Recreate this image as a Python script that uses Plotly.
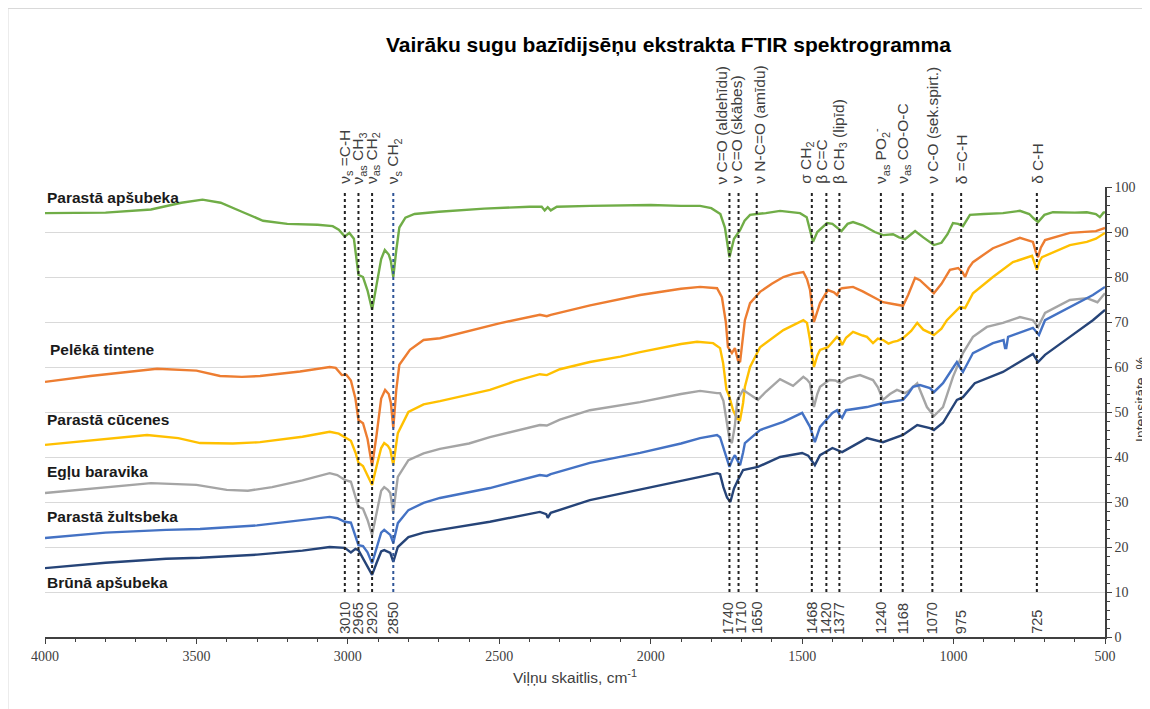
import plotly.graph_objects as go

# ---------------- data ----------------
title_text = "Vairāku sugu bazīdijsēņu ekstrakta FTIR spektrogramma"
x_title = "Viļņu skaitlis, cm<sup>-1</sup>"
y_title = "Intensitāte, %"

series_names = ["Parastā apšubeka", "Pelēkā tintene", "Parastā cūcenes",
                "Egļu baravika", "Parastā žultsbeka", "Brūnā apšubeka"]
series_colors = ["#70AD47", "#ED7D31", "#FFC000", "#A5A5A5", "#4472C4", "#264478"]

wn_green = [4000, 3800, 3650, 3550, 3480, 3420, 3350, 3280, 3200, 3100, 3050, 3030, 3010, 2995, 2980, 2965, 2950, 2935, 2920, 2905, 2890, 2878, 2865, 2858, 2850, 2840, 2830, 2810, 2780, 2700, 2550, 2400, 2360, 2350, 2340, 2330, 2310, 2200, 2000, 1900, 1837, 1800, 1770, 1755, 1740, 1725, 1705, 1690, 1672, 1650, 1620, 1573, 1540, 1507, 1485, 1474, 1464, 1450, 1418, 1400, 1385, 1370, 1350, 1332, 1300, 1260, 1233, 1200, 1180, 1160, 1140, 1127, 1100, 1078, 1065, 1040, 1020, 1002, 985, 969, 946, 900, 837, 781, 750, 735, 721, 700, 672, 600, 560, 530, 517, 505, 500]
it_green = [94.2, 94.3, 95.0, 96.5, 97.2, 96.5, 94.5, 92.5, 91.8, 91.6, 91.3, 90.5, 89.0, 89.8, 88.5, 80.5, 80.0, 77.0, 72.7, 78.0, 84.0, 86.0, 85.0, 83.5, 80.0, 86.0, 91.0, 93.2, 94.0, 94.5, 95.2, 95.6, 95.6, 94.8, 95.5, 94.8, 95.6, 95.8, 96.0, 95.8, 95.8, 95.3, 94.0, 91.0, 84.4, 88.5, 90.4, 92.5, 93.8, 94.0, 94.2, 94.7, 94.5, 94.2, 93.3, 90.4, 87.8, 90.0, 92.0, 91.8, 91.0, 90.2, 91.8, 92.2, 91.5, 90.0, 89.3, 89.5, 88.8, 88.4, 89.5, 90.2, 88.8, 87.8, 87.1, 87.6, 89.5, 92.0, 91.8, 91.3, 93.8, 94.0, 94.2, 94.7, 94.0, 93.0, 92.2, 93.8, 94.4, 94.3, 94.4, 94.0, 93.3, 94.3, 94.4]

wn_orange = [4000, 3850, 3630, 3500, 3422, 3350, 3290, 3158, 3060, 3040, 3020, 3005, 2990, 2975, 2965, 2950, 2935, 2920, 2905, 2890, 2877, 2865, 2858, 2850, 2840, 2830, 2795, 2750, 2696, 2600, 2500, 2366, 2343, 2330, 2200, 2035, 1900, 1837, 1781, 1765, 1752, 1745, 1732, 1722, 1712, 1705, 1695, 1689, 1672, 1639, 1600, 1562, 1530, 1496, 1484, 1474, 1461, 1450, 1441, 1415, 1395, 1385, 1375, 1368, 1332, 1300, 1266, 1233, 1200, 1167, 1150, 1127, 1111, 1078, 1065, 1040, 1012, 985, 970, 962, 950, 936, 870, 781, 745, 738, 728, 721, 712, 698, 616, 560, 530, 500]
it_orange = [56.7, 58.0, 59.6, 59.2, 58.0, 57.8, 58.0, 59.0, 60.0, 59.8, 58.2, 58.3, 57.0, 53.0, 48.2, 47.5, 44.0, 38.0, 45.0, 53.0, 54.9, 54.0, 52.0, 46.4, 55.0, 60.5, 63.8, 66.0, 66.4, 68.0, 69.7, 71.6, 71.3, 71.6, 73.7, 76.0, 77.4, 77.8, 77.5, 75.5, 70.0, 64.4, 63.1, 64.2, 61.5, 61.1, 67.0, 70.4, 74.2, 76.7, 78.5, 80.0, 80.7, 81.1, 79.5, 77.1, 70.0, 72.5, 74.2, 77.1, 76.6, 76.0, 77.3, 77.5, 77.8, 76.8, 75.6, 74.4, 74.0, 73.6, 76.0, 79.8, 79.3, 77.1, 76.4, 78.5, 81.6, 82.0, 81.0, 80.0, 82.0, 83.3, 86.4, 88.7, 88.0, 87.8, 85.5, 84.4, 86.5, 88.2, 89.8, 90.0, 90.2, 90.9]

wn_yellow = [4000, 3800, 3663, 3560, 3488, 3380, 3290, 3150, 3060, 3030, 3010, 2990, 2975, 2965, 2950, 2935, 2920, 2905, 2890, 2880, 2868, 2860, 2850, 2840, 2835, 2800, 2750, 2696, 2600, 2531, 2450, 2366, 2343, 2300, 2201, 2100, 2035, 1900, 1847, 1794, 1771, 1761, 1750, 1740, 1728, 1715, 1705, 1695, 1689, 1672, 1639, 1562, 1496, 1484, 1474, 1461, 1450, 1441, 1415, 1400, 1385, 1375, 1368, 1355, 1332, 1300, 1286, 1266, 1250, 1233, 1215, 1200, 1185, 1167, 1140, 1120, 1100, 1078, 1065, 1040, 1022, 990, 979, 962, 936, 870, 804, 741, 732, 725, 716, 708, 616, 560, 530, 500]
it_yellow = [42.7, 44.0, 44.9, 44.2, 43.1, 43.0, 43.3, 44.5, 45.6, 45.2, 44.4, 43.6, 41.0, 38.7, 38.0, 36.0, 33.8, 38.0, 42.0, 43.1, 42.5, 41.6, 38.2, 43.0, 45.3, 50.0, 51.7, 52.4, 53.8, 54.9, 56.8, 58.4, 58.2, 59.5, 61.1, 62.3, 63.3, 65.1, 65.6, 65.3, 64.2, 60.9, 55.0, 53.3, 50.4, 48.5, 48.2, 52.0, 55.6, 60.0, 64.4, 68.2, 70.4, 69.8, 66.0, 60.0, 62.5, 63.8, 64.4, 65.6, 66.7, 66.0, 64.9, 66.5, 67.8, 67.0, 66.7, 65.3, 66.3, 66.0, 65.2, 65.6, 65.8, 66.4, 68.0, 69.8, 68.3, 67.6, 67.1, 68.5, 70.4, 72.6, 73.3, 73.1, 76.4, 80.0, 83.3, 84.7, 83.0, 81.6, 83.5, 84.4, 87.1, 87.8, 88.5, 89.8]

wn_gray = [4000, 3800, 3650, 3500, 3400, 3330, 3250, 3150, 3060, 3035, 3010, 2990, 2975, 2965, 2950, 2935, 2920, 2905, 2890, 2880, 2868, 2860, 2850, 2842, 2835, 2800, 2750, 2696, 2600, 2531, 2450, 2366, 2343, 2300, 2201, 2035, 1900, 1837, 1781, 1771, 1760, 1750, 1740, 1732, 1722, 1714, 1695, 1670, 1646, 1620, 1573, 1530, 1496, 1484, 1474, 1461, 1450, 1441, 1410, 1390, 1375, 1350, 1309, 1266, 1250, 1233, 1210, 1187, 1160, 1150, 1120, 1111, 1088, 1065, 1035, 1002, 969, 936, 890, 837, 781, 738, 721, 698, 616, 560, 525, 500]
it_gray = [32.0, 33.2, 34.2, 33.8, 32.7, 32.5, 33.3, 34.8, 36.4, 36.0, 34.9, 34.5, 31.0, 28.9, 28.5, 26.0, 22.7, 28.0, 32.5, 33.3, 32.7, 32.0, 27.6, 32.0, 35.6, 39.3, 40.8, 41.8, 43.0, 44.4, 45.8, 47.1, 47.0, 48.3, 50.4, 52.2, 54.0, 54.7, 54.2, 54.2, 52.5, 48.2, 44.0, 43.1, 47.0, 52.7, 54.9, 53.8, 52.7, 54.5, 57.3, 55.8, 57.8, 57.2, 56.4, 51.1, 54.0, 55.6, 57.1, 57.0, 56.4, 57.5, 58.2, 57.1, 55.5, 52.7, 54.0, 54.9, 54.2, 54.6, 56.4, 54.9, 51.1, 49.1, 51.1, 57.8, 63.1, 66.7, 68.9, 69.8, 71.1, 70.4, 68.9, 72.0, 74.9, 75.3, 74.4, 76.4]

wn_blue = [4000, 3800, 3600, 3488, 3300, 3150, 3060, 3035, 3010, 2990, 2975, 2965, 2950, 2935, 2920, 2905, 2890, 2880, 2868, 2860, 2850, 2840, 2835, 2800, 2750, 2696, 2531, 2366, 2343, 2330, 2201, 2035, 1900, 1837, 1781, 1771, 1760, 1750, 1740, 1730, 1722, 1712, 1705, 1695, 1689, 1639, 1562, 1500, 1484, 1474, 1458, 1450, 1441, 1400, 1385, 1375, 1368, 1355, 1286, 1233, 1167, 1150, 1134, 1111, 1078, 1065, 1035, 1000, 989, 975, 969, 936, 870, 835, 830, 826, 820, 738, 725, 718, 698, 616, 540, 500]
it_blue = [22.0, 23.2, 23.8, 24.0, 24.8, 26.0, 26.7, 26.4, 25.6, 25.4, 22.5, 20.4, 20.2, 18.8, 16.4, 20.0, 23.2, 23.8, 23.2, 22.7, 20.9, 23.5, 25.3, 28.2, 29.8, 30.9, 33.1, 36.0, 35.8, 36.2, 38.7, 40.9, 43.0, 44.2, 44.9, 44.4, 42.2, 40.0, 37.8, 39.5, 40.4, 39.0, 38.2, 41.0, 43.1, 46.0, 47.8, 49.8, 48.0, 46.7, 43.3, 45.0, 46.7, 49.8, 50.4, 49.2, 48.7, 50.4, 51.1, 52.0, 52.7, 54.0, 55.6, 56.0, 55.3, 54.4, 56.4, 60.0, 61.1, 59.5, 58.9, 63.1, 65.3, 66.0, 64.2, 64.2, 66.7, 68.7, 67.5, 67.1, 70.4, 73.3, 76.0, 77.8]

wn_navy = [4000, 3800, 3600, 3488, 3300, 3150, 3060, 3030, 3010, 2990, 2975, 2965, 2950, 2935, 2920, 2905, 2890, 2880, 2868, 2860, 2850, 2842, 2835, 2800, 2750, 2696, 2531, 2366, 2345, 2340, 2330, 2201, 2035, 1900, 1837, 1781, 1771, 1760, 1748, 1737, 1725, 1712, 1695, 1646, 1573, 1500, 1480, 1458, 1441, 1400, 1368, 1286, 1233, 1167, 1120, 1078, 1065, 1035, 989, 969, 930, 837, 758, 738, 721, 698, 616, 540, 500]
it_navy = [15.3, 16.5, 17.4, 17.6, 18.3, 19.2, 20.0, 19.9, 19.8, 18.8, 19.6, 19.3, 17.5, 15.5, 13.8, 16.5, 19.0, 19.3, 19.0, 18.7, 16.7, 18.5, 20.0, 22.2, 23.2, 23.8, 25.6, 27.8, 27.3, 26.5, 27.6, 30.4, 32.7, 34.7, 35.6, 36.4, 36.2, 33.3, 31.0, 30.0, 33.0, 34.9, 37.1, 37.8, 40.0, 40.9, 40.3, 38.2, 40.4, 42.0, 41.1, 44.2, 43.3, 44.9, 47.1, 46.4, 46.0, 47.6, 52.7, 53.3, 56.4, 58.9, 62.2, 62.9, 61.1, 62.7, 66.7, 70.4, 72.7]

# label positions (wavenumber, intensity) for series names
label_wn = [4000, 3990, 4000, 4000, 4000, 4000]
label_it = [97.6, 63.8, 48.4, 36.7, 26.7, 12.2]

# band assignments
band_wn = [3010, 2965, 2920, 2850, 1740, 1710, 1650, 1468, 1420, 1377, 1240, 1168, 1070, 975, 725]
band_text = ["ν<sub>s</sub> =C-H", "ν<sub>as</sub> CH<sub>3</sub>", "ν<sub>as</sub> CH<sub>2</sub>",
             "ν<sub>s</sub> CH<sub>2</sub>", "ν C=O (aldehīdu)", "ν C=O (skābes)",
             "ν N-C=O (amīdu)", "σ CH<sub>2</sub>", "β C=C", "β CH<sub>3</sub> (lipīd)",
             "ν<sub>as</sub> PO<sub>2</sub><sup>-</sup>", "ν<sub>as</sub> CO-O-C",
             "ν C-O (sek.spirt.)", "δ =C-H", "δ C-H"]
band_label_shift = [0, 0, 0, 0, -8, -3, 2, -6, -5, 0, 0, 0, 0, 0, 0]
band_num_shift = [0, 0, 0, 0, -1, 2, 0, 0, 0, 0, 0, 0, 0, 0, 0]
band_line_colors = ["#222222"] * 3 + ["#2F5597"] + ["#222222"] * 11

wn_list = [wn_green, wn_orange, wn_yellow, wn_gray, wn_blue, wn_navy]
it_list = [it_green, it_orange, it_yellow, it_gray, it_blue, it_navy]

# ---------------- figure ----------------
fig = go.Figure()
for name, col, xs, ys in zip(series_names, series_colors, wn_list, it_list):
    fig.add_trace(go.Scatter(x=xs, y=ys, mode="lines", name=name,
                             line=dict(color=col, width=2.4)))

# dotted band lines
for w, c in zip(band_wn, band_line_colors):
    fig.add_shape(type="line", xref="x", yref="y", x0=w, x1=w, y0=10, y1=99,
                  line=dict(color=c, width=2, dash="dot"), layer="above")

# band labels (top) and numbers (bottom)
for w, t, s1, s2 in zip(band_wn, band_text, band_label_shift, band_num_shift):
    fig.add_annotation(x=w, y=100, xref="x", yref="y", text=t, textangle=-90,
                       showarrow=False, xanchor="center", yanchor="bottom", yshift=1, xshift=s1,
                       font=dict(family="Liberation Sans", size=15.5, color="#404040"))
    fig.add_annotation(x=w, y=0, xref="x", yref="y", text=str(w), textangle=-90,
                       showarrow=False, xanchor="center", yanchor="bottom", yshift=1, xshift=s2,
                       font=dict(family="Liberation Sans", size=14.5, color="#404040"))

# series name labels
for name, lx, ly in zip(series_names, label_wn, label_it):
    fig.add_annotation(x=lx, y=ly, xref="x", yref="y", text="<b>" + name + "</b>",
                       showarrow=False, xanchor="left", yanchor="middle",
                       font=dict(family="Liberation Sans", size=15.5, color="#1a1a1a"))

# title
fig.add_annotation(x=(668 - 45) / 1060, y=(637 - 45) / 450, xref="paper", yref="paper",
                   text="<b>" + title_text + "</b>", showarrow=False,
                   xanchor="center", yanchor="middle",
                   font=dict(family="Liberation Sans", size=21, color="#000000"))

# y-axis title (right)
fig.add_annotation(x=(1141 - 45) / 1060, y=(637 - 400) / 450, xref="paper", yref="paper",
                   text=y_title, textangle=-90, showarrow=False,
                   xanchor="center", yanchor="middle",
                   font=dict(family="Liberation Sans", size=14, color="#404040"))

# chart-area border
fig.add_shape(type="rect", xref="paper", yref="paper",
              x0=(8 - 45) / 1060, x1=(1165 - 45) / 1060,
              y0=(637 - 712) / 450, y1=(637 - 8.5) / 450,
              line=dict(color="#D9D9D9", width=1), fillcolor="rgba(0,0,0,0)", layer="below")

# the page body has an 8px margin, so the figure is 8px smaller than the window
fig.update_layout(
    width=1142, height=701,
    margin=dict(l=37, r=45, t=179, b=72),
    paper_bgcolor="white", plot_bgcolor="white",
    showlegend=False,
    xaxis=dict(range=[4000, 500], dtick=500, tick0=500,
               showgrid=False, zeroline=False,
               showline=True, linecolor="#404040", linewidth=1.5,
               ticks="outside", ticklen=5, tickcolor="#404040",
               minor=dict(dtick=100, ticks="outside", ticklen=3, tickcolor="#404040"),
               tickfont=dict(family="Liberation Serif", size=14, color="#404040"),
               title=dict(text=x_title, standoff=10,
                          font=dict(family="Liberation Sans", size=15.5, color="#404040"))),
    yaxis=dict(range=[0, 100], dtick=10, side="right",
               showgrid=True, gridcolor="#D9D9D9", gridwidth=1, zeroline=False,
               showline=True, linecolor="#404040", linewidth=1.5,
               ticks="outside", ticklen=5, tickcolor="#404040",
               minor=dict(dtick=2, ticks="outside", ticklen=3, tickcolor="#404040", showgrid=False),
               tickfont=dict(family="Liberation Serif", size=14, color="#404040")),
)

fig.write_html("out.html")
